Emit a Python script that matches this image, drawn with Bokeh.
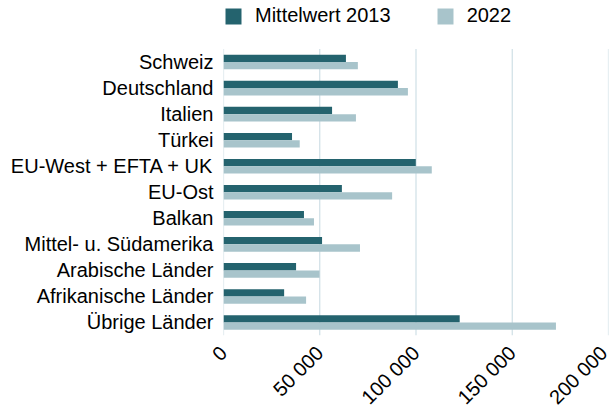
from bokeh.plotting import figure
from bokeh.models import ColumnDataSource, FixedTicker, Legend, LegendItem, Range1d
from bokeh.embed import file_html
from bokeh.resources import INLINE
import math

categories = ["Schweiz", "Deutschland", "Italien", "Türkei", "EU-West + EFTA + UK",
              "EU-Ost", "Balkan", "Mittel- u. Südamerika", "Arabische Länder",
              "Afrikanische Länder", "Übrige Länder"]
values_2013 = [63600, 90600, 56400, 35600, 99900, 61500, 41800, 51200, 37700, 31500, 122700]
values_2022 = [69800, 95800, 68800, 39600, 108200, 87600, 47000, 70900, 49900, 42900, 172700]
series_names = ["Mittelwert 2013", "2022"]
tick_values = [0, 50000, 100000, 150000, 200000]
tick_labels = ["0", "50 000", "100 000", "150 000", "200 000"]

DARK = "#24636e"
LIGHT = "#a8c4cb"
FONT = "Liberation Sans"
BAR_H = 0.28

n = len(categories)
pos = [n - 1 - i for i in range(n)]  # first category on top
src = ColumnDataSource(dict(
    pos=pos,
    pos13=[y + BAR_H / 2 for y in pos],
    pos22=[y - BAR_H / 2 for y in pos],
    v13=values_2013, v22=values_2022))

# frame spans full height; the extra room above the bars holds the legend
cat_lo, cat_hi = -0.5, n - 0.5
p = figure(width=611, height=419, output_backend="svg", toolbar_location=None,
           x_range=Range1d(0, 200000), y_range=Range1d(cat_lo, cat_hi + 1.865),
           min_border_left=223, min_border_right=3, min_border_top=0, min_border_bottom=81)
p.outline_line_color = None
p.background_fill_color = "white"
p.border_fill_color = "white"
p.xgrid.visible = False
p.ygrid.visible = False

grid_src = ColumnDataSource(dict(x=tick_values, y0=[cat_lo] * len(tick_values),
                                 y1=[cat_hi] * len(tick_values)))
p.segment(x0="x", x1="x", y0="y0", y1="y1", source=grid_src,
          line_color="#cfdfe6", line_width=1.2)

r1 = p.hbar(y="pos13", right="v13", left=0, height=BAR_H,
            source=src, fill_color=DARK, line_color=None)
r2 = p.hbar(y="pos22", right="v22", left=0, height=BAR_H,
            source=src, fill_color=LIGHT, line_color=None)

xa = p.xaxis[0]
xa.ticker = FixedTicker(ticks=tick_values)
xa.major_label_overrides = {t: l for t, l in zip(tick_values, tick_labels)}
xa.axis_line_color = None
xa.major_tick_line_color = None
xa.minor_tick_line_color = None
xa.major_tick_out = 0
xa.major_label_standoff = 14
xa.major_label_orientation = math.pi / 4
xa.major_label_text_font = FONT
xa.major_label_text_font_size = "20px"
xa.major_label_text_color = "#000000"

ya = p.yaxis[0]
ya.ticker = FixedTicker(ticks=pos)
ya.major_label_overrides = {y: c for y, c in zip(pos, categories)}
ya.axis_line_color = None
ya.major_tick_line_color = None
ya.minor_tick_line_color = None
ya.major_tick_out = 0
ya.major_label_standoff = 10
ya.major_label_text_font = FONT
ya.major_label_text_font_size = "20px"
ya.major_label_text_color = "#000000"

legend = Legend(items=[LegendItem(label=series_names[0], renderers=[r1]),
                       LegendItem(label=series_names[1], renderers=[r2])],
                orientation="horizontal", location=(0, 308),
                glyph_width=20, glyph_height=20, label_standoff=12, spacing=44,
                padding=0, margin=0, border_line_color=None, background_fill_alpha=0,
                label_text_font=FONT, label_text_font_size="20px", label_text_color="#000000")
p.add_layout(legend, "center")

open("out.html", "w").write(file_html(p, INLINE))
